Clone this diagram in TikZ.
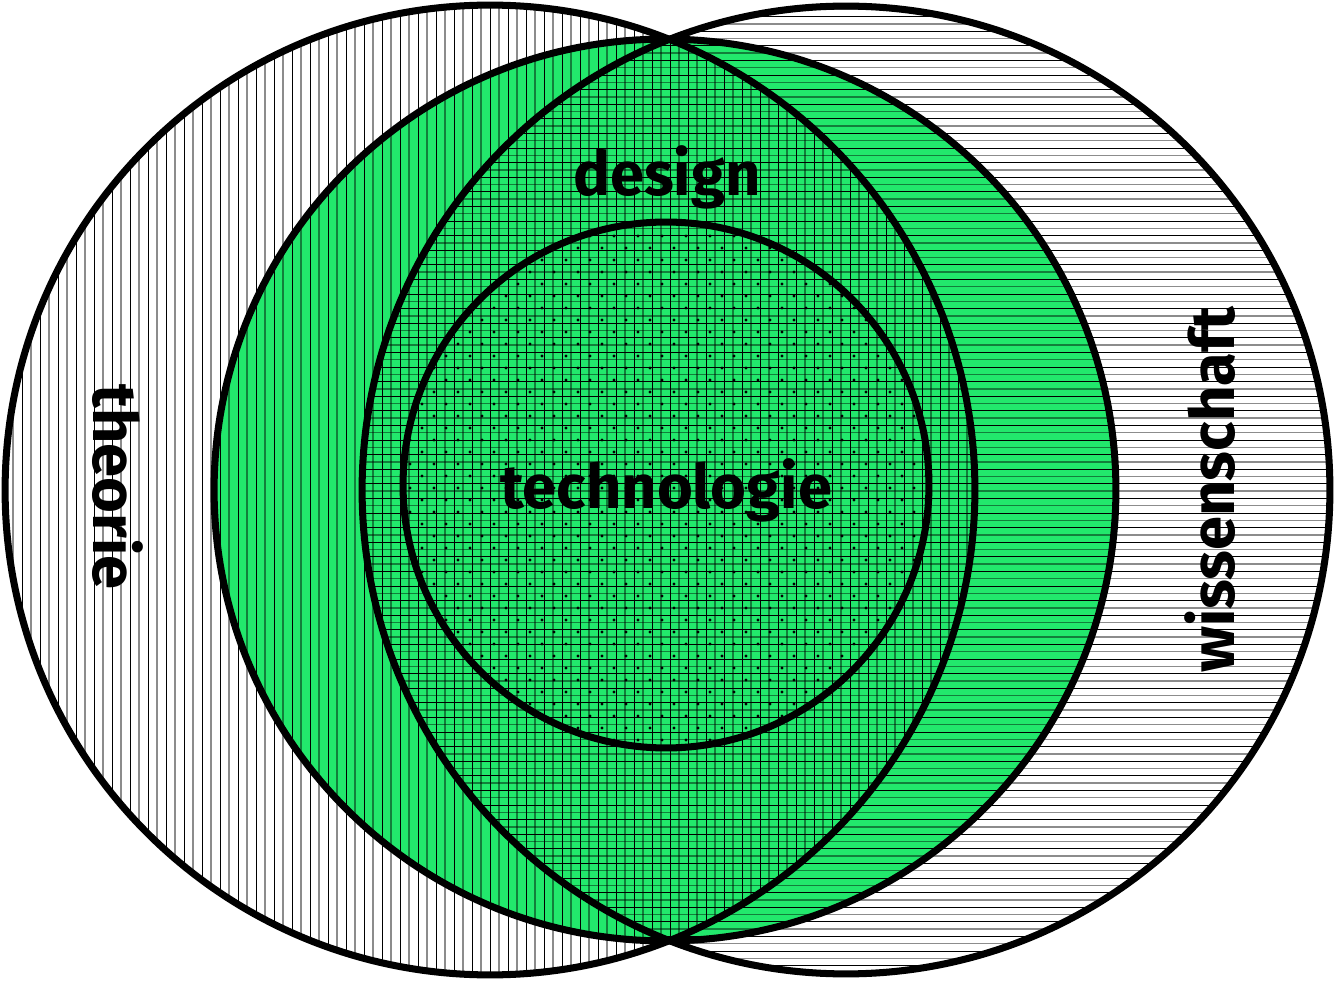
\documentclass[tikz,border=0pt]{standalone}
\usepackage{fontspec}
\setmainfont{Fira Sans}
\usepackage{tikz}
\usetikzlibrary{positioning,calc}
\definecolor{ink}{HTML}{000000}
\definecolor{leaf}{HTML}{22E86C}
\renewcommand{\Large}{\fontsize{35}{42}\selectfont}

\begin{document}
\begin{tikzpicture}[x=0.02cm,y=-0.02cm]
  \useasboundingbox (0,0) rectangle (1334,982);
  \coordinate (T) at (490,490);
  \coordinate (W) at (846,490);
  \coordinate (D) at (665,490);
  \coordinate (K) at (666,485);

  % Fondo verde del diseño
  \fill[leaf] (D) circle (9.02cm);

  % --- Rayado vertical: teoría ---
  \begin{scope}
    \clip (T) circle (9.7cm);
    \foreach \x in {4,22,...,990} \draw[ink,line width=0.5pt] (\x,0)--(\x,982);
    \foreach \x in {13,31,...,990} \draw[ink,opacity=0.45,line width=0.8pt] (\x,0)--(\x,982);
  \end{scope}

  % --- Rayado horizontal: ciencia ---
  \begin{scope}
    \clip (W) circle (9.68cm);
    \foreach \y in {2,16.6,...,982} \draw[ink,line width=0.5pt] (350,\y)--(1334,\y);
    \foreach \y in {9.3,23.9,...,982} \draw[ink,opacity=0.45,line width=0.8pt] (350,\y)--(1334,\y);
  \end{scope}

  % --- Puntos: tecnología ---
  \begin{scope}
    \clip (K) circle (5.26cm);
    \foreach \y in {212,236,...,760} {
      \foreach \x in {398,422,...,940} {
        \fill[ink] (\x,\y) circle (0.9pt);
        \fill[ink] (\x+12,\y+12) circle (0.9pt);
      }
    }
  \end{scope}

  % --- Círculos ---
  \draw[ink,line width=4pt] (T) circle (9.7cm);
  \draw[ink,line width=4pt] (W) circle (9.68cm);
  \draw[ink,line width=4pt] (D) circle (9.02cm);
  \draw[ink,line width=4pt] (K) circle (5.26cm);

  % --- Etiquetas ---
  \node[font=\Large\bfseries,text=ink] (design) at (667,177) {design};
  \node[font=\Large\bfseries,text=ink] (technologie) at (666,490) {technologie};
  \node[font=\Large\bfseries,text=ink,rotate=-90] (theorie) at (118,487) {theorie};
  \node[font=\Large\bfseries,text=ink,rotate=90] (wissenschaft) at (1210,490) {wissenschaft};
\end{tikzpicture}
\end{document}
